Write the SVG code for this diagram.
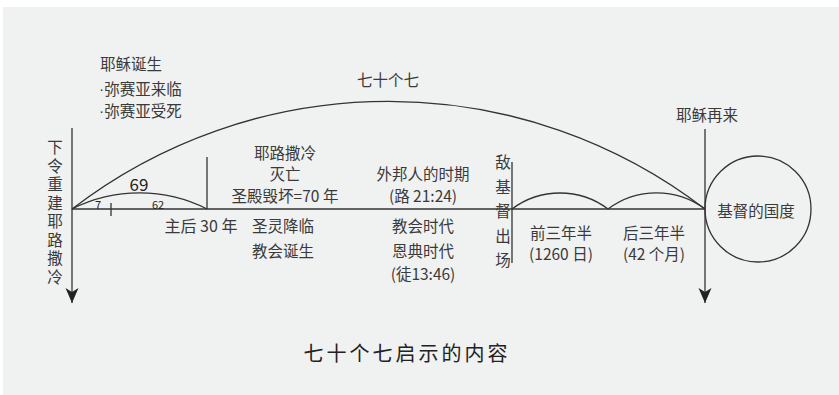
<svg xmlns="http://www.w3.org/2000/svg" width="839" height="395" viewBox="0 0 839 395">
<style>
text{font-family:"Noto Sans CJK SC","Noto Sans",sans-serif;fill:#3a3a3a;font-size:15.5px;dominant-baseline:central}
.c{text-anchor:middle}
.s{font-size:11px;fill:#222}
.v{writing-mode:tb;text-anchor:start}
.dot{font-family:"Liberation Sans",sans-serif}
.ln{fill:none;stroke:#333;stroke-width:1.3}
.title{font-size:20px;letter-spacing:3px;fill:#222}
</style>
<defs>
<marker id="arr" viewBox="-1 -8 17 16" refX="15" refY="0" markerWidth="17" markerHeight="16" markerUnits="userSpaceOnUse" orient="auto">
<path d="M0,-6.5 L15,0 L0,6.5 L4,0 Z" fill="#222"/>
</marker>
</defs>
<rect x="0" y="0" width="839" height="395" fill="#fff"/>
<rect x="3" y="7" width="836" height="388" fill="#f0f1f1"/>

<g id="connectors">
<line class="ln" x1="72" y1="128" x2="72" y2="303" marker-end="url(#arr)"/>
<line class="ln" x1="705" y1="129" x2="705" y2="303" marker-end="url(#arr)"/>
<line class="ln" x1="72" y1="209" x2="705" y2="209"/>
<path class="ln" d="M72,209 A519,519 0 0 1 705,209"/>
<path class="ln" d="M72,209 A150,150 0 0 1 207,209"/>
<path class="ln" d="M512,209 A80,80 0 0 1 608,209"/>
<path class="ln" d="M608,209 A81,81 0 0 1 705,209"/>
<line class="ln" x1="207" y1="157" x2="207" y2="209"/>
<line class="ln" x1="512" y1="162" x2="512" y2="263"/>
<line class="ln" x1="111" y1="203" x2="111" y2="216"/>
</g>

<g id="seventy-sevens"><text class="c" x="388" y="79">七十个七</text></g>
<g id="messiah">
<text x="100" y="63">耶稣诞生</text>
<text x="99" y="88"><tspan class="dot">·</tspan>弥赛亚来临</text>
<text x="99" y="110"><tspan class="dot">·</tspan>弥赛亚受死</text>
</g>
<g id="decree">
<text class="v" x="55" y="139.5" style="letter-spacing:3px">下令重建耶路撒冷</text>
</g>
<g id="sixty-nine">
<text class="c" x="139" y="183" style="font-size:17px;fill:#222">69</text>
<text class="c s" x="98" y="204">7</text>
<text class="c s" x="158" y="204">62</text>
</g>
<g id="ad30"><text class="c" x="201" y="225" style="font-size:16px">主后 30 年</text></g>
<g id="destruction">
<text class="c" x="285" y="152">耶路撒冷</text>
<text class="c" x="285" y="173">灭亡</text>
<text class="c" x="285" y="195">圣殿毁坏=70 年</text>
</g>
<g id="pentecost">
<text class="c" x="283" y="225">圣灵降临</text>
<text class="c" x="283" y="250">教会诞生</text>
</g>
<g id="gentiles">
<text class="c" x="423" y="173">外邦人的时期</text>
<text class="c" x="423" y="195">(路 21:24)</text>
</g>
<g id="church-age">
<text class="c" x="423" y="225">教会时代</text>
<text class="c" x="423" y="250">恩典时代</text>
<text class="c" x="423" y="273">(徒13:46)</text>
</g>
<g id="antichrist">
<text class="v" x="503" y="154.5" style="letter-spacing:9px">敌基督出场</text>
</g>
<g id="first-half">
<text class="c" x="561" y="232">前三年半</text>
<text class="c" x="561" y="253">(1260 日)</text>
</g>
<g id="second-half">
<text class="c" x="654" y="232">后三年半</text>
<text class="c" x="654" y="253">(42 个月)</text>
</g>
<g id="return"><text class="c" x="707" y="114">耶稣再来</text></g>
<g id="kingdom">
<circle class="ln" cx="758" cy="209" r="53"/>
<text class="c" x="756" y="210">基督的国度</text>
</g>
<g id="title"><text class="c title" x="407" y="352">七十个七启示的内容</text></g>
</svg>
